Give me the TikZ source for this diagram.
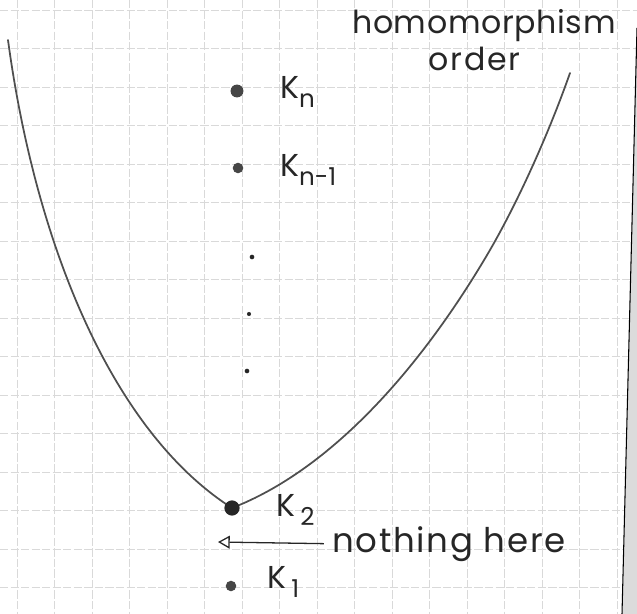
\documentclass[tikz,border=0pt]{standalone}
\usepackage{fontspec}
\setmainfont{Poppins}
\usetikzlibrary{arrows.meta}
\newcommand{\lowidx}[1]{\raisebox{-0.5ex}{\fontsize{21}{21}\selectfont #1}}

\begin{document}
\begin{tikzpicture}[
  x=0.03cm, y=-0.03cm,
  hand/.style={font=\fontsize{27}{30}\selectfont, inner sep=0pt, text=black!85},
  gridline/.style={gray!30, line width=0.5pt, dash pattern=on 7pt off 2pt},
  curve/.style={gray!62!black, line width=1.5pt, line cap=round},
  bigdot/.style={circle, fill=gray!55!black, inner sep=0pt, minimum size=#1},
  smalldot/.style={circle, fill=black!85, inner sep=0pt, minimum size=#1},
  arr/.style={-{Triangle[open, length=10pt, width=11pt]}, line width=1.1pt, black!85},
]
\useasboundingbox (0,0) rectangle (637,614);

% ── Squared paper ─────────────────────────────────────────────────────────────
\foreach \i in {0,...,16}
  \draw[gridline] ({17+37.5*\i}, 0) -- ({17+37.5*\i}, 614);
\foreach \j in {0,...,15}
  \draw[gridline] (0, {10+38.5*\j}) -- (637, {10+38.5*\j});

% paper edge on the right
\fill[gray!28] (637, 28) -- (637, 614) -- (622, 614) -- cycle;
\draw[black, line width=0.9pt] (637, 28) -- (622, 614);

% ── The order (two branches meeting at K_2) ──────────────────────────────────
\draw[curve] (8,40) .. controls (35,240) and (110,430) .. (232,508);
\draw[curve] (232,508) .. controls (330,470) and (420,370) .. (490,250)
                       .. controls (520,198) and (550,130) .. (570,73);

% ── Complete graphs ──────────────────────────────────────────────────────────
\node[bigdot=11pt] (kn)  at (237, 91) {};
\node[bigdot=9pt]  (knm) at (238,168) {};
\node[smalldot=4pt] (d1) at (252,257) {};
\node[smalldot=3.5pt] (d2) at (249,314) {};
\node[smalldot=4pt] (d3) at (247,371) {};
\node[bigdot=13pt, fill=black!85] (k2) at (232,508) {};
\node[bigdot=9pt]  (k1)  at (231,586) {};

\node[hand, anchor=west] (lkn)  at (280, 92) {K\lowidx{n}};
\node[hand, anchor=west] (lknm) at (280,170) {K\lowidx{n-1}};
\node[hand, anchor=west] (lk2)  at (276,510) {K\,\lowidx{2}};
\node[hand, anchor=west] (lk1)  at (267,582) {K\,\lowidx{1}};

% ── Notes ────────────────────────────────────────────────────────────────────
\node[hand, anchor=base west] (title) at (352, 33)
  {\addfontfeatures{LetterSpace=2}homomorphism};
\node[hand, anchor=base west] (order) at (428, 70)
  {\addfontfeatures{LetterSpace=6}order};

\coordinate (gap) at (218,542);
\node[hand, anchor=base west, font=\fontsize{29}{32}\selectfont] (note) at (332,552)
  {\addfontfeatures{LetterSpace=5}nothing here};
\draw[arr] ([xshift=-7pt]note.west) -- (gap);

\end{tikzpicture}
\end{document}
